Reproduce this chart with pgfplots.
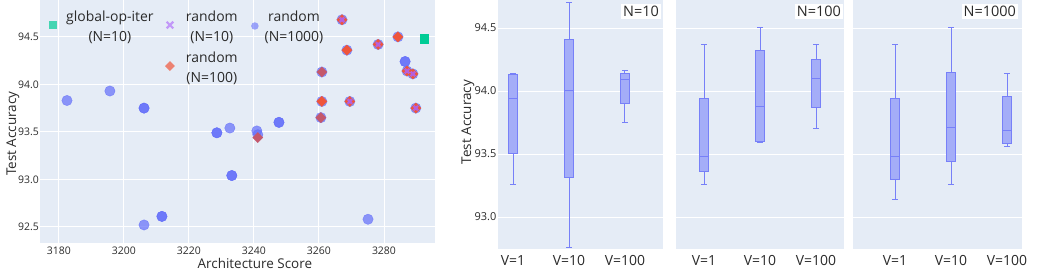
\documentclass[border=0pt]{standalone}
\usepackage{fontspec}
\setmainfont{Open Sans}
\usepackage{pgfplots}
\pgfplotsset{compat=1.18}
\usepgfplotslibrary{statistics}
\usetikzlibrary{calc}
\definecolor{bg}{HTML}{E5ECF6}
\definecolor{pblue}{HTML}{636EFA}
\definecolor{pred}{HTML}{EF553B}
\definecolor{ppurple}{HTML}{AB63FA}
\definecolor{pgreen}{HTML}{00CC96}
\definecolor{mred}{HTML}{C4586C}
\definecolor{boxfill}{HTML}{A4ADF8}
\definecolor{boxline}{HTML}{7780F8}
\definecolor{txt}{HTML}{2A2A2A}
\pgfplotsset{
  plotlybg/.style={
    scale only axis, anchor=south west,
    axis background/.style={fill=bg},
    axis line style={draw=none},
    tick style={draw=none},
    major grid style={white, line width=0.9bp},
    /pgf/number format/assume math mode=true,
    /pgf/number format/1000 sep={},
  },
  boxpanel/.style={
    plotlybg, height=249bp, ymin=92.746, ymax=94.722,
    ymajorgrids, xmajorgrids=false,
    ytick={93,93.5,94,94.5},
    xtick={0,1,2}, xticklabels={V=1,V=10,V=100},
    xticklabel style={font=\fontsize{14}{15}\selectfont, text=txt, inner sep=0.5bp, anchor=north, yshift=-6bp},
    boxplot/draw direction=y,
  },
  mybox/.style={draw=boxline, fill=boxfill, line width=1bp, solid},
}
\begin{document}
\begin{tikzpicture}
\useasboundingbox (0,0) rectangle (1047bp,270bp);
% ---------------- scatter ----------------
\begin{axis}[plotlybg,
  at={(40bp,27bp)}, width=395bp, height=243bp,
  xmin=3174.2, xmax=3295.7, ymin=92.33, ymax=94.888,
  grid=major,
  xtick={3180,3200,...,3280}, ytick={92.5,93,93.5,94,94.5},
  xticklabel style={font=\fontsize{10.5}{12}\selectfont, text=txt},
  yticklabel style={font=\fontsize{10.5}{12}\selectfont, text=txt, inner sep=1bp,
    /pgf/number format/.cd, fixed, fixed zerofill, precision=1, /tikz/.cd},
  xlabel={Architecture Score}, ylabel={Test Accuracy},
  xlabel style={font=\fontsize{13.5}{15}\selectfont, text=txt, at={(axis description cs:0.544,0)}, anchor=center, yshift=-20bp},
  ylabel style={font=\fontsize{13.5}{15}\selectfont, text=txt, at={([xshift=-27bp]axis description cs:0,0.45)}, anchor=center},
]
% random N=1000 (circles; darker ones are overlapping points)
\addplot[only marks, pblue, mark=*, mark size=5.2, opacity=0.7] coordinates {
(3182.5,93.83) (3195.7,93.93) (3206.2,93.75) (3206.2,93.75)
(3228.6,93.49) (3228.6,93.49) (3232.6,93.54)
(3240.9,93.51) (3241.2,93.47)
(3247.7,93.60) (3247.7,93.60)
(3233.2,93.04) (3233.2,93.04)
(3206.2,92.52) (3211.7,92.61) (3211.7,92.61)
(3275.1,92.58) (3286.5,94.24) (3286.5,94.24)
(3267.1,94.68) (3268.6,94.36) (3278.2,94.42) (3284.3,94.50)
(3287.1,94.14) (3288.9,94.11) (3260.9,94.13) (3260.9,93.82)
(3269.5,93.82) (3289.8,93.75) (3260.6,93.65)
};
% random N=100 (diamonds)
\addplot[only marks, pred, mark=square*, mark size=3.6, mark options={rotate=45}] coordinates {
(3267.1,94.68) (3268.6,94.36) (3278.2,94.42) (3284.3,94.50)
(3287.1,94.14) (3288.9,94.11) (3260.9,93.82) (3269.5,93.82) (3289.8,93.75)
};
\addplot[only marks, mred, mark=square*, mark size=3.6, mark options={rotate=45}] coordinates {
(3260.9,94.13) (3260.6,93.65) (3241.2,93.44)
};
% random N=10 (x)
\addplot[only marks, ppurple, mark=x, mark size=3.2, line width=2.2bp, opacity=0.85] coordinates {
(3267.1,94.68) (3278.2,94.42) (3287.1,94.14) (3288.9,94.11) (3269.5,93.82) (3289.8,93.75)
};
% global-op-iter (N=10)
\addplot[only marks, pgreen, mark=square*, mark size=4.2] coordinates {
(3292.3,94.48)
};
% legend
\node[fill=pgreen, fill opacity=0.7, minimum size=7.5bp, inner sep=0pt] at (rel axis cs:0.033,0.897) {};
\node[font=\fontsize{14}{20}\selectfont, text=txt, align=center] at (rel axis cs:0.177,0.889) {global-op-iter\\(N=10)};
\draw[ppurple, draw opacity=0.6, line width=2.2bp] ($(rel axis cs:0.329,0.897)+(-3.3bp,-3.3bp)$) -- ++(6.6bp,6.6bp) ($(rel axis cs:0.329,0.897)+(-3.3bp,3.3bp)$) -- ++(6.6bp,-6.6bp);
\node[font=\fontsize{14}{20}\selectfont, text=txt, align=center] at (rel axis cs:0.435,0.889) {random\\(N=10)};
\node[fill=pred, fill opacity=0.7, minimum size=7bp, inner sep=0pt, rotate=45] at (rel axis cs:0.329,0.728) {};
\node[font=\fontsize{14}{20}\selectfont, text=txt, align=center] at (rel axis cs:0.435,0.72) {random\\(N=100)};
\node[circle, fill=pblue, fill opacity=0.6, minimum size=7.5bp, inner sep=0pt] at (rel axis cs:0.544,0.893) {};
\node[font=\fontsize{14}{20}\selectfont, text=txt, align=center] at (rel axis cs:0.643,0.889) {random\\(N=1000)};
\end{axis}
% ---------------- box panel N=10 ----------------
\begin{axis}[boxpanel, at={(498bp,21bp)}, width=165bp,
  xmin=-0.268, xmax=2.679,
  yticklabel style={font=\fontsize{11}{12}\selectfont, text=txt, inner sep=1.5bp,
    /pgf/number format/.cd, fixed, fixed zerofill, precision=1, /tikz/.cd},
  ylabel={Test Accuracy},
  ylabel style={font=\fontsize{13.5}{15}\selectfont, text=txt, at={([xshift=-30bp]axis description cs:0,0.51)}, anchor=center},
]
\addplot[mybox, boxplot prepared={draw position=0, lower whisker=93.26, lower quartile=93.50, median=93.94, upper quartile=94.13, upper whisker=94.14, box extend=0.166, whisker extend=0.09}] coordinates {};
\addplot[mybox, boxplot prepared={draw position=1, lower whisker=92.76, lower quartile=93.31, median=94.00, upper quartile=94.41, upper whisker=94.70, box extend=0.166, whisker extend=0.09}] coordinates {};
\addplot[mybox, boxplot prepared={draw position=2, lower whisker=93.75, lower quartile=93.90, median=94.09, upper quartile=94.14, upper whisker=94.16, box extend=0.166, whisker extend=0.09}] coordinates {};
\node[fill=white, font=\fontsize{14.5}{16}\selectfont, text=txt, inner sep=2bp, anchor=north east] at ([xshift=-2bp,yshift=-4bp]rel axis cs:1,1) {N=10};
\end{axis}
% ---------------- box panel N=100 ----------------
\begin{axis}[boxpanel, at={(676bp,21bp)}, width=168bp,
  xmin=-0.5, xmax=2.5, yticklabels={},
]
\addplot[mybox, boxplot prepared={draw position=0, lower whisker=93.26, lower quartile=93.36, median=93.48, upper quartile=93.94, upper whisker=94.37, box extend=0.166, whisker extend=0.09}] coordinates {};
\addplot[mybox, boxplot prepared={draw position=1, lower whisker=93.59, lower quartile=93.60, median=93.88, upper quartile=94.32, upper whisker=94.50, box extend=0.166, whisker extend=0.09}] coordinates {};
\addplot[mybox, boxplot prepared={draw position=2, lower whisker=93.70, lower quartile=93.87, median=94.10, upper quartile=94.25, upper whisker=94.37, box extend=0.166, whisker extend=0.09}] coordinates {};
\node[fill=white, font=\fontsize{14.5}{16}\selectfont, text=txt, inner sep=2bp, anchor=north east] at ([xshift=-1bp,yshift=-4bp]rel axis cs:1,1) {N=100};
\end{axis}
% ---------------- box panel N=1000 ----------------
\begin{axis}[boxpanel, at={(853bp,21bp)}, width=169bp,
  xmin=-0.75, xmax=2.268, yticklabels={},
]
\addplot[mybox, boxplot prepared={draw position=0, lower whisker=93.14, lower quartile=93.30, median=93.48, upper quartile=93.94, upper whisker=94.37, box extend=0.166, whisker extend=0.09}] coordinates {};
\addplot[mybox, boxplot prepared={draw position=1, lower whisker=93.26, lower quartile=93.44, median=93.71, upper quartile=94.15, upper whisker=94.50, box extend=0.166, whisker extend=0.09}] coordinates {};
\addplot[mybox, boxplot prepared={draw position=2, lower whisker=93.56, lower quartile=93.58, median=93.69, upper quartile=93.96, upper whisker=94.14, box extend=0.166, whisker extend=0.09}] coordinates {};
\node[fill=white, font=\fontsize{14.5}{16}\selectfont, text=txt, inner sep=2bp, anchor=north east] at ([xshift=-4bp,yshift=-4bp]rel axis cs:1,1) {N=1000};
\end{axis}
\end{tikzpicture}
\end{document}
